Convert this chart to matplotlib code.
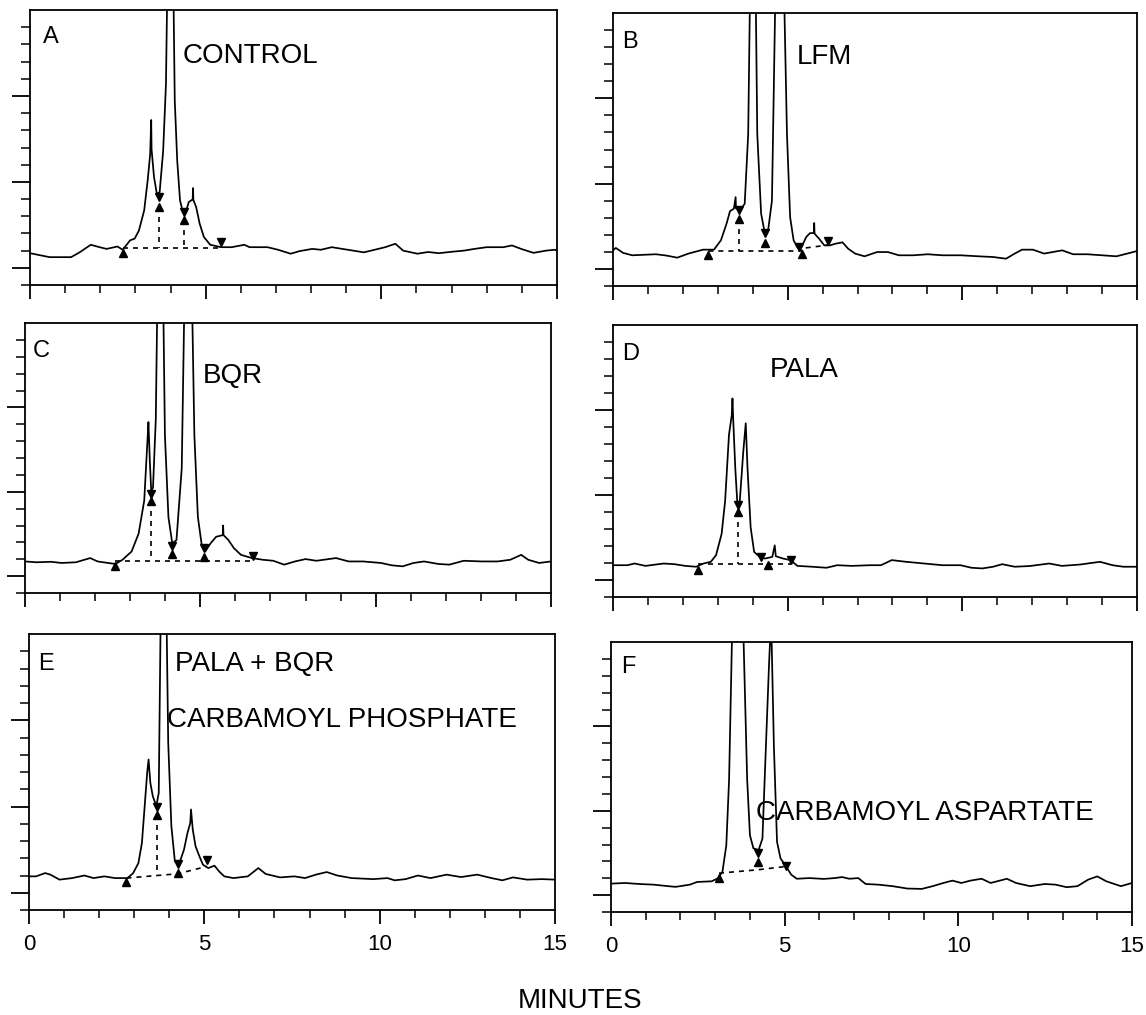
import matplotlib
matplotlib.use("Agg")
import matplotlib.pyplot as plt
from matplotlib.ticker import MultipleLocator, FixedLocator

plt.rcParams['font.family'] = ['Liberation Sans', 'DejaVu Sans']

# ---- panel A : CONTROL ----
A_t = [0, 0.56, 1.17, 1.42, 1.73, 1.98, 2.18, 2.49, 2.64, 2.85, 2.98, 3.1, 3.25, 3.35, 3.42, 3.45, 3.46,
       3.53, 3.61, 3.69, 3.79, 3.87, 4.0, 4.12, 4.19, 4.27, 4.34, 4.42, 4.52, 4.63, 4.64, 4.65, 4.73,
       4.83, 4.95, 5.13, 5.44, 5.74, 6.1, 6.25, 6.76, 7.06, 7.42, 7.67, 8.03, 8.28, 8.59, 8.89, 9.2,
       9.5, 9.81, 10.11, 10.4, 10.62, 11.03, 11.33, 11.64, 11.94, 12.35, 12.65, 13.0, 13.47, 13.72,
       13.98, 14.33, 14.69, 14.94, 15.0]
A_y = [0.85, 0.62, 0.62, 0.91, 1.34, 1.2, 1.1, 1.24, 1.05, 1.6, 1.7, 2.17, 3.34, 5.1, 6.6, 8.6, 6.9,
       5.28, 4.31, 4.4, 6.8, 10.7, 30, 9.75, 6.25, 3.92, 3.34, 3.15, 3.83, 3.98, 4.64, 3.95, 3.53,
       2.56, 1.79, 1.34, 1.2, 1.2, 1.34, 1.2, 1.2, 1.05, 0.82, 0.97, 1.1, 1.05, 1.2, 1.1, 1.0,
       0.9, 1.05, 1.2, 1.4, 1.0, 0.82, 0.92, 0.85, 0.92, 1.0, 1.1, 1.2, 1.2, 1.3,
       1.1, 0.87, 1.0, 1.05, 1.0]
A_up_t = [2.64, 3.66, 4.37]
A_up_y = [0.87, 3.53, 2.76]
A_dn_t = [3.66, 4.37, 5.44]
A_dn_y = [4.12, 3.24, 1.5]
A_base_t = [2.64, 5.44]
A_base_y = [1.17, 1.17]
A_drop_t = [3.66, 4.37]
A_drop_top = [3.53, 2.76]
A_drop_bot = [1.17, 1.17]

# ---- panel B : LFM ----
B_t = [0, 0.08, 0.29, 0.55, 1.23, 1.54, 1.84, 2.16, 2.58, 2.89, 3.09, 3.25, 3.35, 3.46, 3.51, 3.52,
       3.58, 3.67, 3.77, 3.87, 4.01, 4.13, 4.24, 4.34, 4.44, 4.55, 4.76, 4.98, 5.07, 5.17, 5.28, 5.4,
       5.53, 5.64, 5.75, 5.76, 5.77, 5.9, 6.05, 6.21, 6.37, 6.57, 6.73, 6.93, 7.2, 7.56, 7.87, 8.18,
       8.6, 9.01, 9.43, 9.95, 10.47, 10.88, 11.25, 11.5, 11.71, 12.02, 12.34, 12.86, 13.17, 13.58,
       14.0, 14.41, 14.72, 15.0]
B_y = [1.09, 1.23, 0.94, 0.8, 0.86, 0.78, 0.66, 0.9, 1.13, 1.13, 1.68, 2.65, 3.39, 3.53, 4.21, 3.55,
       3.53, 3.53, 3.82, 7.9, 30, 7.9, 3.24, 2.16, 2.26, 4.0, 30, 7.9, 3.04, 1.68, 1.25, 1.29,
       1.87, 2.1, 2.1, 2.69, 2.07, 1.77, 1.38, 1.38, 1.48, 1.56, 1.19, 0.9, 0.74, 0.99, 0.99, 0.8,
       0.8, 0.86, 0.8, 0.8, 0.74, 0.7, 0.6, 0.9, 1.13, 1.13, 0.9, 1.09, 0.86, 0.86,
       0.8, 0.74, 0.9, 1.05]
B_up_t = [2.73, 3.61, 4.36, 5.4]
B_up_y = [0.8, 2.94, 1.52, 0.9]
B_dn_t = [3.61, 4.36, 5.33, 6.16]
B_dn_y = [3.43, 2.1, 1.29, 1.64]
B_base_t = [2.73, 5.4, 5.4, 6.16]
B_base_y = [1.05, 1.05, 1.2, 1.4]
B_drop_t = [3.61, 4.36]
B_drop_top = [2.94, 1.52]
B_drop_bot = [1.05, 1.05]

# ---- panel C : BQR ----
C_t = [0, 0.33, 0.74, 1.04, 1.45, 1.86, 2.07, 2.37, 2.58, 2.78, 3.04, 3.24, 3.4, 3.5, 3.52, 3.56,
       3.6, 3.65, 3.73, 3.86, 3.99, 4.09, 4.2, 4.32, 4.47, 4.65, 4.83, 4.93, 5.04, 5.14, 5.29, 5.45,
       5.64, 5.65, 5.66, 5.8, 5.96, 6.16, 6.47, 6.78, 7.08, 7.39, 7.7, 8.0, 8.31, 8.87, 9.23, 9.64,
       10.15, 10.46, 10.77, 11.08, 11.38, 11.79, 12.1, 12.51, 13.02, 13.48, 13.84, 14.15, 14.35,
       14.66, 15.0]
C_y = [0.87, 0.82, 0.85, 0.78, 0.82, 1.07, 0.87, 0.78, 0.72, 0.97, 1.46, 2.52, 4.47, 8.35, 9.13, 6.8,
       5.05, 5.24, 9.3, 30, 8.35, 3.5, 1.94, 2.14, 6.4, 30, 8.35, 3.5, 1.84, 1.46, 1.94, 2.33,
       2.43, 3.0, 2.43, 2.14, 1.65, 1.26, 1.07, 0.97, 0.91, 0.68, 0.87, 1.01, 0.91, 1.07, 0.87, 0.87,
       0.78, 0.64, 0.58, 0.78, 0.87, 0.72, 0.68, 0.91, 0.87, 0.87, 0.97, 1.26, 0.97,
       0.78, 0.87]
C_up_t = [2.58, 3.6, 4.2, 5.11]
C_up_y = [0.58, 4.43, 1.32, 1.13]
C_dn_t = [3.6, 4.2, 5.11, 6.49]
C_dn_y = [4.89, 1.79, 1.65, 1.22]
C_base_t = [2.58, 6.49]
C_base_y = [0.87, 0.87]
C_drop_t = [3.6, 4.2, 5.11]
C_drop_top = [4.43, 1.32, 1.13]
C_drop_bot = [0.87, 0.87, 0.87]

# ---- panel D : PALA ----
D_t = [0, 0.41, 0.62, 0.93, 1.45, 1.76, 2.07, 2.38, 2.59, 2.8, 2.95, 3.11, 3.21, 3.32, 3.4, 3.42,
       3.44, 3.5, 3.56, 3.63, 3.73, 3.8, 3.85, 3.94, 4.04, 4.2, 4.35, 4.56, 4.63, 4.66, 4.87, 5.08,
       5.28, 5.7, 6.11, 6.42, 6.84, 7.36, 7.67, 7.98, 8.39, 8.91, 9.43, 9.95, 10.26, 10.57, 10.88,
       11.14, 11.5, 11.92, 12.49, 12.85, 13.37, 13.94, 14.3, 14.61, 15.0]
D_y = [0.87, 0.87, 0.97, 0.83, 0.97, 0.93, 0.83, 0.78, 0.97, 1.07, 1.46, 2.72, 4.66, 8.54, 9.7, 10.68,
       9.51, 6.6, 4.47, 4.66, 7.57, 9.22, 6.6, 3.1, 1.65, 1.36, 1.26, 1.36, 2.04, 1.4, 1.26, 1.17,
       0.83, 0.78, 0.72, 0.87, 0.83, 0.87, 0.87, 1.17, 1.07, 0.97, 0.87, 0.87, 0.72, 0.68, 0.78,
       0.93, 0.78, 0.82, 0.97, 0.83, 0.91, 1.07, 0.87, 0.78, 0.78]
D_up_t = [2.44, 3.58, 4.44]
D_up_y = [0.58, 3.98, 0.87]
D_dn_t = [3.58, 4.25, 5.1]
D_dn_y = [4.43, 1.36, 1.17]
D_base_t = [2.44, 5.1]
D_base_y = [0.93, 0.93]
D_drop_t = [3.58]
D_drop_top = [3.98]
D_drop_bot = [0.93]

# ---- panel E : PALA + BQR ----
E_t = [0, 0.2, 0.46, 0.61, 0.87, 1.23, 1.58, 1.84, 2.15, 2.45, 2.81, 2.97, 3.12, 3.22, 3.32, 3.37,
       3.41, 3.46, 3.53, 3.63, 3.7, 3.83, 3.97, 4.06, 4.16, 4.29, 4.42, 4.52, 4.6, 4.62, 4.67, 4.75,
       4.86, 4.96, 5.11, 5.29, 5.42, 5.57, 5.83, 6.24, 6.54, 6.75, 7.16, 7.57, 7.87, 8.18, 8.49,
       8.79, 9.2, 9.82, 10.22, 10.43, 10.74, 11.09, 11.45, 11.91, 12.32, 12.78, 13.19, 13.5, 13.8,
       14.21, 14.62, 15.0]
E_y = [0.95, 0.95, 1.14, 1.05, 0.76, 0.85, 1.0, 0.85, 0.95, 0.85, 0.85, 1.14, 1.72, 2.89, 5.6, 6.96,
       7.73, 6.38, 5.6, 5.02, 5.79, 30, 8.7, 3.86, 1.82, 1.72, 2.5, 3.47, 4.05, 4.83, 3.66, 2.69,
       2.11, 1.63, 1.43, 1.57, 1.24, 0.95, 0.85, 0.95, 1.43, 1.09, 0.89, 0.95, 0.85, 1.05, 1.2,
       1.0, 0.85, 0.79, 0.85, 0.72, 0.79, 1.0, 0.85, 1.05, 0.91, 1.05, 0.85, 0.72, 0.89,
       0.76, 0.79, 0.76]
E_up_t = [2.78, 3.65, 4.24]
E_up_y = [0.62, 4.48, 1.14]
E_dn_t = [3.65, 4.24, 5.08]
E_dn_y = [4.96, 1.69, 1.88]
E_base_t = [2.78, 4.24, 5.08]
E_base_y = [0.85, 1.1, 1.53]
E_drop_t = [3.65]
E_drop_top = [4.48]
E_drop_bot = [1.0]

# ---- panel F ----
F_t = [0, 0.4, 0.81, 1.23, 1.65, 1.86, 2.27, 2.48, 2.9, 3.09, 3.21, 3.32, 3.4, 3.63, 3.92, 4.0,
       4.1, 4.25, 4.36, 4.46, 4.55, 4.61, 4.69, 4.78, 4.88, 5.04, 5.19, 5.35, 5.71, 6.13, 6.44,
       6.65, 6.86, 7.12, 7.33, 7.7, 8.11, 8.53, 8.95, 9.26, 9.57, 9.83, 10.09, 10.35, 10.67, 10.93,
       11.4, 11.66, 12.07, 12.49, 12.8, 13.12, 13.43, 13.74, 14.0, 14.26, 14.68, 15.0]
F_y = [0.68, 0.72, 0.66, 0.62, 0.53, 0.49, 0.62, 0.78, 0.82, 1.01, 1.4, 2.96, 6.86, 30, 6.86, 3.55,
       2.77, 2.67, 3.35, 8.81, 13.68, 16.5, 8.81, 3.16, 2.18, 1.7, 1.21, 0.97, 1.01, 0.96, 1.01,
       1.07, 0.97, 1.01, 0.66, 0.62, 0.53, 0.39, 0.37, 0.53, 0.72, 0.86, 0.72, 0.86, 0.97, 0.72,
       0.97, 0.72, 0.53, 0.66, 0.62, 0.47, 0.53, 0.92, 1.11, 0.82, 0.53, 0.72]
F_up_t = [3.11, 4.22]
F_up_y = [1.01, 1.95]
F_dn_t = [4.22, 5.04]
F_dn_y = [2.48, 1.7]
F_base_t = [3.11, 4.22, 5.04]
F_base_y = [1.3, 1.5, 1.7]
F_drop_t = [4.22]
F_drop_top = [1.95]
F_drop_bot = [1.5]

panels = [
    ("A", A_t, A_y, A_up_t, A_up_y, A_dn_t, A_dn_y, A_base_t, A_base_y, A_drop_t, A_drop_top, A_drop_bot),
    ("B", B_t, B_y, B_up_t, B_up_y, B_dn_t, B_dn_y, B_base_t, B_base_y, B_drop_t, B_drop_top, B_drop_bot),
    ("C", C_t, C_y, C_up_t, C_up_y, C_dn_t, C_dn_y, C_base_t, C_base_y, C_drop_t, C_drop_top, C_drop_bot),
    ("D", D_t, D_y, D_up_t, D_up_y, D_dn_t, D_dn_y, D_base_t, D_base_y, D_drop_t, D_drop_top, D_drop_bot),
    ("E", E_t, E_y, E_up_t, E_up_y, E_dn_t, E_dn_y, E_base_t, E_base_y, E_drop_t, E_drop_top, E_drop_bot),
    ("F", F_t, F_y, F_up_t, F_up_y, F_dn_t, F_dn_y, F_base_t, F_base_y, F_drop_t, F_drop_top, F_drop_bot),
]

# panel boxes in pixels: left, top, width, height
boxes = {"A": (30, 10, 527, 275), "B": (613, 13, 524, 273),
         "C": (25, 323, 526, 270), "D": (613, 325, 524, 272),
         "E": (29, 634, 526, 276), "F": (611, 642, 521, 270)}

# texts: (string, x frac, y frac)
notes = {"A": [("CONTROL", 0.29, 0.807)],
         "B": [("LFM", 0.351, 0.813)],
         "C": [("BQR", 0.337, 0.778)],
         "D": [("PALA", 0.299, 0.809)],
         "E": [("PALA + BQR", 0.277, 0.866), ("CARBAMOYL PHOSPHATE", 0.262, 0.663)],
         "F": [("CARBAMOYL ASPARTATE", 0.279, 0.341)]}
letter_pos = {"A": (0.024, 0.88), "B": (0.017, 0.872), "C": (0.014, 0.874),
              "D": (0.017, 0.871), "E": (0.018, 0.87), "F": (0.019, 0.885)}

W, H = 1146, 1015
fig = plt.figure(figsize=(W / 100, H / 100), dpi=100)

for p in panels:
    name, t, y, ut, uy, dt, dy, bt, by, drt, drtop, drbot = p
    l, tp, w, h = boxes[name]
    ax = fig.add_axes([l / W, 1 - (tp + h) / H, w / W, h / H])
    ax.plot(t, y, color='black', lw=1.25)
    # integration baseline and peak drops
    ax.plot(bt, by, color='black', lw=1.2, ls=(0, (3, 3)))
    for xx, top, bot in zip(drt, drtop, drbot):
        ax.plot([xx, xx], [top, bot], color='black', lw=1.2, ls=(0, (3, 3)))
    ax.plot(ut, uy, ls='none', marker='^', ms=6, color='black')
    ax.plot(dt, dy, ls='none', marker='v', ms=6, color='black')

    ax.set_xlim(0, 15)
    ax.set_ylim(-1, 15)
    ax.xaxis.set_major_locator(MultipleLocator(5))
    ax.xaxis.set_minor_locator(MultipleLocator(1))
    ax.yaxis.set_major_locator(FixedLocator([0, 5, 10]))
    ax.yaxis.set_minor_locator(FixedLocator([-1, 1, 2, 3, 4, 6, 7, 8, 9, 11, 12, 13, 14]))
    ax.tick_params(axis='x', which='major', direction='out', length=10, width=1.3)
    ax.tick_params(axis='x', which='minor', direction='out', length=6, width=1.1)
    ax.tick_params(axis='y', which='major', direction='out', length=13, width=1.3)
    ax.tick_params(axis='y', which='minor', direction='out', length=6.5, width=1.1)
    ax.set_yticklabels([])
    if name in ("E", "F"):
        ax.set_xticks([0, 5, 10, 15])
        ax.set_xticklabels(["0", "5", "10", "15"], fontsize=16)
        ax.tick_params(axis='x', which='major', pad=7)
    else:
        ax.set_xticklabels([])
    for s in ax.spines.values():
        s.set_linewidth(1.3)

    lx, ly = letter_pos[name]
    ax.text(lx, ly, name, transform=ax.transAxes, fontsize=17, va='baseline', ha='left')
    for txt, xx, yy in notes[name]:
        ax.text(xx, yy, txt, transform=ax.transAxes, fontsize=20, va='baseline', ha='left')

fig.text(580 / W, 1 - 1008 / H, "MINUTES", fontsize=20, ha='center', va='baseline')

fig.savefig("out.png", dpi=100)
